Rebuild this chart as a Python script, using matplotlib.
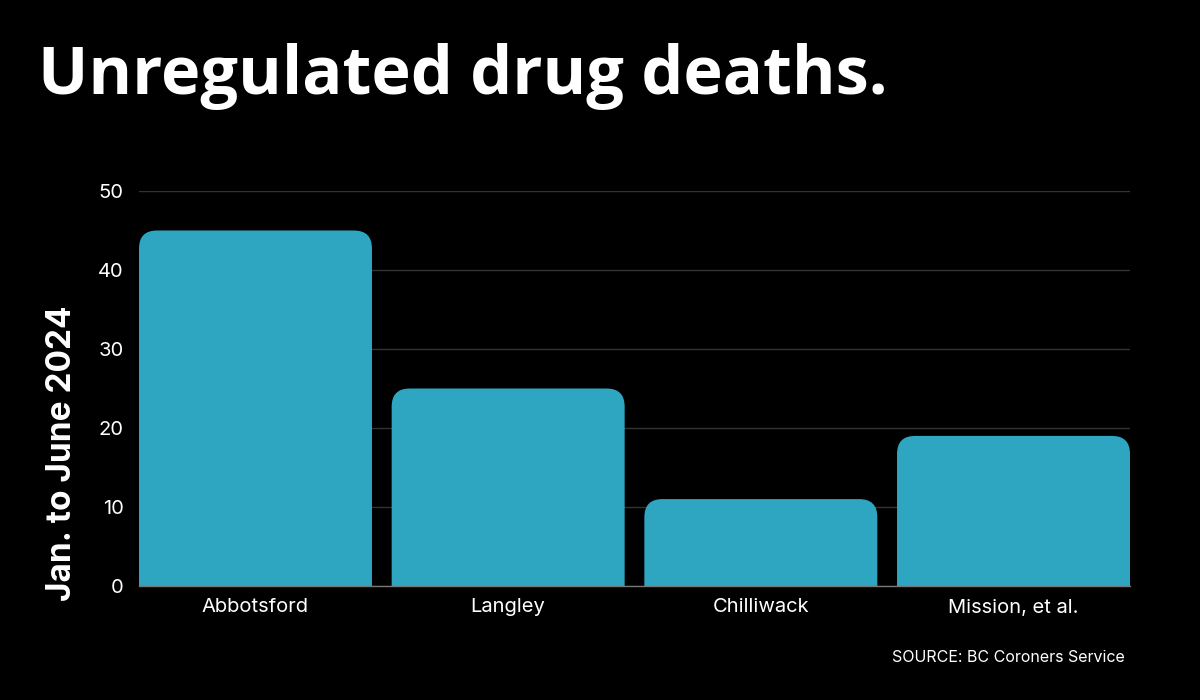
import matplotlib.pyplot as plt
from matplotlib.patches import FancyBboxPatch

# data
places = ['Abbotsford', 'Langley', 'Chilliwack', 'Mission, et al.']
deaths = [45, 25, 11, 19]
yticks = [0, 10, 20, 30, 40, 50]

bar_color = '#2ea6c1'
width = 0.922

plt.rcParams['font.family'] = ['Inter', 'DejaVu Sans']

fig = plt.figure(figsize=(12, 7), dpi=100, facecolor='black')
ax = fig.add_axes([139/1200, 114/700, 991/1200, 395/700], facecolor='black')

ax.set_xlim(-width/2, len(places) - 1 + width/2)
ax.set_ylim(0, 50)

# rounded top corners: x radius in data units, aspect ratio to y
rx = 18 / 252.7
aspect = (50 / 395) / (1 / 252.7)
bars = ax.bar(range(len(places)), deaths, width=width, color=bar_color, zorder=2)
for b in bars:
    b.set_visible(False)
    x0, w, h = b.get_x(), b.get_width(), b.get_height()
    ry = rx * aspect
    p = FancyBboxPatch((x0, -ry), w, h + ry,
                       boxstyle=f'round,pad=0,rounding_size={rx}',
                       mutation_aspect=aspect,
                       facecolor=bar_color, edgecolor='none', zorder=2)
    ax.add_patch(p)

ax.set_yticks(yticks)
ax.set_xticks(range(len(places)))
ax.set_xticklabels(places)
ax.yaxis.grid(True, color='#333333', linewidth=1, zorder=0)
ax.tick_params(axis='both', length=0, colors='white', labelsize=14.5)
ax.tick_params(axis='y', pad=11)
ax.tick_params(axis='x', pad=9)
for s in ['top', 'right', 'left']:
    ax.spines[s].set_visible(False)
ax.spines['bottom'].set_color('#777777')
ax.spines['bottom'].set_linewidth(1)
ax.spines['bottom'].set_zorder(3)

ax.set_ylabel('Jan. to June 2024', color='white', fontsize=24,
              fontweight='bold')
ax.yaxis.set_label_coords(-(139 - 62) / 991, 1 - (453 - 191) / 395)
ax.yaxis.label.set_va('center')

fig.text(38/1200, 1 - 76/700, 'Unregulated drug deaths.', color='white',
         fontsize=48, fontweight='bold', va='center', ha='left',
         family=['Open Sans', 'DejaVu Sans'])
fig.text(1125/1200, 1 - 657/700, 'SOURCE: BC Coroners Service', color='white',
         fontsize=11.5, ha='right', va='center')

fig.savefig('out.png', dpi=100, facecolor='black')
